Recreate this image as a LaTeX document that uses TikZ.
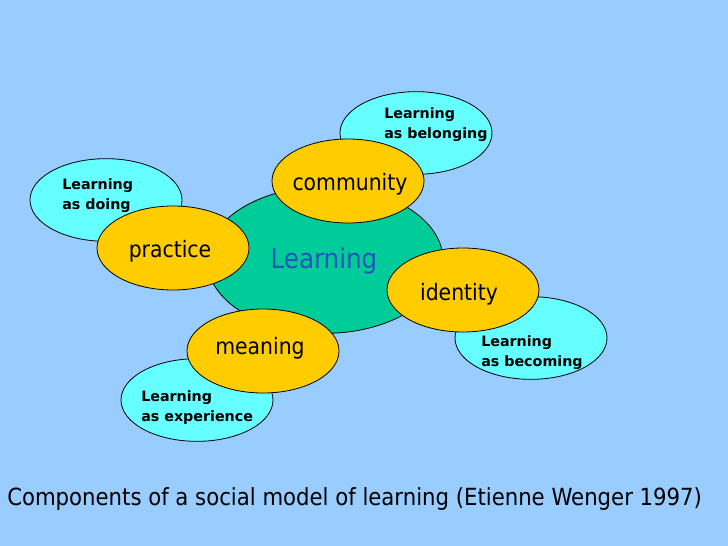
\documentclass[tikz,border=0pt]{standalone}
\usepackage{fontspec}
\setmainfont{DejaVu Sans}
\newfontfamily\condfont{DejaVu Sans Condensed}
\usetikzlibrary{shapes.geometric}
\definecolor{bgblue}{HTML}{99CCFF}
\definecolor{cyanfill}{HTML}{66FFFF}
\definecolor{greenfill}{HTML}{00CC99}
\definecolor{orangefill}{HTML}{FFCC00}
\definecolor{learnblue}{HTML}{2255BB}
\tikzset{
  outer/.style={ellipse, draw=black, line width=0.6pt, fill=cyanfill, minimum width=114pt, minimum height=62pt, inner sep=0pt},
  inner/.style={ellipse, draw=black, line width=0.6pt, fill=orangefill, minimum width=114pt, minimum height=63pt, inner sep=0pt},
  itext/.style={inner sep=0pt, font=\condfont\fontsize{17pt}{20pt}\selectfont},
  core/.style={ellipse, draw=black, line width=0.6pt, fill=greenfill, minimum width=177pt, minimum height=110pt, inner sep=0pt},
  lbl/.style={anchor=west, align=left, inner sep=0pt, font=\bfseries\fontsize{10.7pt}{15pt}\selectfont},
}
\begin{document}
\begin{tikzpicture}[x=0.75pt,y=-0.75pt]
\fill[bgblue] (0,0) rectangle (728,546);
\useasboundingbox (0,0) rectangle (728,546);
% outer ellipses
\node[outer] (belong) at (416,133) {};
\node[outer] (doing) at (106,200) {};
\node[outer] (exper) at (197,400) {};
\node[outer] (becom) at (531,338) {};
% core
\node[core] (core) at (325,260) {};
\node[text=learnblue, font=\condfont\fontsize{20.5pt}{24pt}\selectfont, inner sep=0pt] (corel) at (324,261) {Learning};
% inner ellipses
\node[inner] (comm) at (348,181) {};
\node[inner] (prac) at (173,248) {};
\node[inner] (mean) at (263,351) {};
\node[inner] (iden) at (463,290) {};
\node[itext] (commt) at (350,184) {community};
\node[itext] (pract) at (170,251) {practice};
\node[itext] (meant) at (260,348) {meaning};
\node[itext] (ident) at (459,294) {identity};
% outer labels
\node[lbl] (belongl) at (384,125) {Learning\\as belonging};
\node[lbl] (doingl) at (62,196) {Learning\\as doing};
\node[lbl] (experl) at (141,408) {Learning\\as experience};
\node[lbl] (becoml) at (481,353) {Learning\\as becoming};
% caption
\node[anchor=west, inner sep=0pt, font=\condfont\fontsize{17.7pt}{21pt}\selectfont] (cap) at (7,499) {Components of a social model of learning (Etienne Wenger 1997)};
\end{tikzpicture}
\end{document}
